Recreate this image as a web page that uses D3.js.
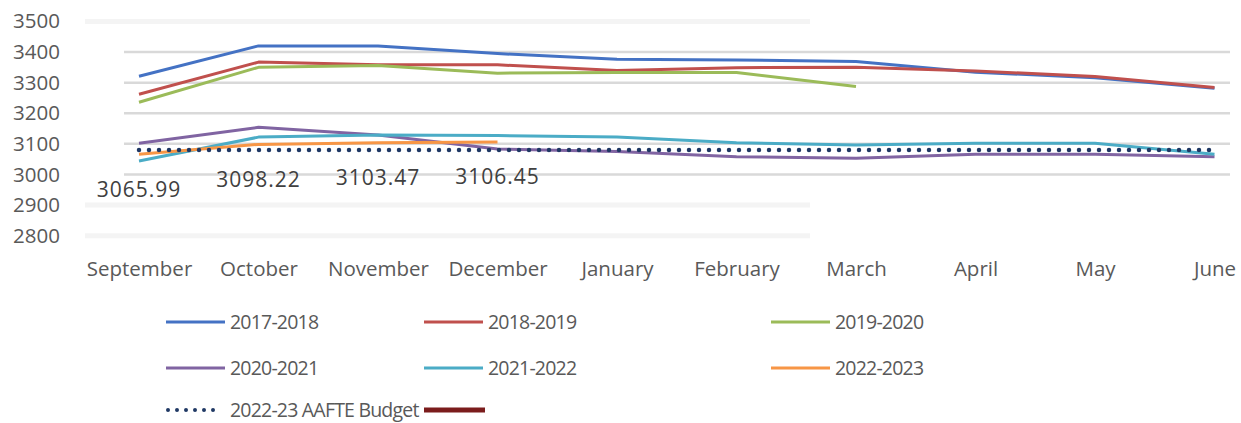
<html>
<script src='https://d3js.org/d3.v7.min.js'></script>
<style>
body { margin: 0; background: white; }
text { font-family: 'Open Sans', sans-serif; }
</style>
<body>
<svg width=1241 height=423></svg>
<script>
const months = ["September", "October", "November", "December", "January", "February", "March", "April", "May", "June"];
const yTicks = [2800, 2900, 3000, 3100, 3200, 3300, 3400, 3500];
const s2017 = [3321, 3420, 3420, 3395, 3376, 3374, 3369, 3334, 3316, 3282];
const s2018 = [3262, 3367, 3358, 3358, 3340, 3349, 3350, 3338, 3320, 3284];
const s2019 = [3236, 3350, 3356, 3331, 3333, 3333, 3287];
const s2020 = [3102, 3154, 3129, 3083, 3075, 3058, 3053, 3066, 3066, 3058];
const s2021 = [3044, 3122, 3129, 3127, 3122, 3104, 3096, 3102, 3102, 3066];
const s2022 = [3065.99, 3098.22, 3103.47, 3106.45];
const budget = [3080, 3080, 3080, 3080, 3080, 3080, 3080, 3080, 3080, 3080];

const series = [
  {name: "2017-2018", values: s2017, color: "#4472C4"},
  {name: "2018-2019", values: s2018, color: "#C0504D"},
  {name: "2019-2020", values: s2019, color: "#9BBB59"},
  {name: "2020-2021", values: s2020, color: "#8064A2"},
  {name: "2021-2022", values: s2021, color: "#4BACC6"},
  {name: "2022-2023", values: s2022, color: "#F79646"}
];

const svg = d3.select("svg");

var x = d3.scalePoint()
  .domain(months)
  .range([139, 1214.5]);

var y = d3.scaleLinear()
  .domain([2800, 3500])
  .range([235.7, 21.4]);

// faint blurred gridlines (3500, 2900, 2800)
svg.append("g")
  .selectAll("line")
  .data([3500, 2900, 2800])
  .enter()
  .append("line")
  .attr("x1", 85).attr("x2", 810)
  .attr("y1", d => y(d)).attr("y2", d => y(d))
  .attr("stroke", "#f4f4f4")
  .attr("stroke-width", 5);

// gridlines
svg.append("g")
  .selectAll("line")
  .data([3000, 3100, 3200, 3300, 3400])
  .enter()
  .append("line")
  .attr("x1", 124).attr("x2", 1230)
  .attr("y1", d => y(d)).attr("y2", d => y(d))
  .attr("stroke", "#d9d9d9")
  .attr("stroke-width", 2.5);

// y axis
const yAxis = svg.append("g")
  .attr("transform", "translate(60,0)")
  .call(d3.axisLeft(y).tickValues(yTicks).tickSize(0).tickPadding(0).tickFormat(d3.format("d")));
yAxis.select(".domain").remove();
yAxis.selectAll("text")
  .style("font-family", "'Open Sans'")
  .style("font-size", "20.5px")
  .attr("fill", "#595959");

// x axis
const xAxis = svg.append("g")
  .attr("transform", "translate(0,261)")
  .call(d3.axisBottom(x).tickSize(0).tickPadding(0));
xAxis.select(".domain").remove();
xAxis.selectAll("text")
  .style("font-family", "'Open Sans'")
  .style("font-size", "20.5px")
  .attr("fill", "#595959");

const line = d3.line()
  .x((d, i) => x(months[i]))
  .y(d => y(d));

series.forEach(s => {
  svg.append("path")
    .attr("d", line(s.values))
    .attr("fill", "none")
    .attr("stroke", s.color)
    .attr("stroke-width", 3)
    .attr("stroke-linejoin", "round");
});

// budget dotted line
svg.append("path")
  .attr("d", line(budget))
  .attr("fill", "none")
  .attr("stroke", "#1F3864")
  .attr("stroke-width", 4.5)
  .attr("stroke-linecap", "round")
  .attr("stroke-dasharray", "0,10");

// data labels for 2022-2023
svg.append("g")
  .selectAll("text")
  .data(s2022)
  .enter()
  .append("text")
  .attr("x", (d, i) => x(months[i]))
  .attr("y", d => y(d) + 35)
  .attr("dy", "0.35em")
  .attr("text-anchor", "middle")
  .style("font-size", "21px")
  .style("letter-spacing", "1px")
  .attr("fill", "#404040")
  .text(d => d3.format(".2f")(d));

// legend
const colX = [166, 424, 771];
const rowY = [322, 368, 410];
const legendItems = series.map(s => ({name: s.name, color: s.color, type: "solid"}))
  .concat([{name: "2022-23 AAFTE Budget", color: "#1F3864", type: "dot"},
           {name: "", color: "#7B1C1C", type: "thick"}]);

const leg = svg.append("g");
legendItems.forEach((d, i) => {
  const lx = colX[i % 3], ly = rowY[Math.floor(i / 3)];
  const g = leg.append("g").attr("transform", `translate(${lx},${ly})`);
  if (d.type === "solid") {
    g.append("line").attr("x1", 0).attr("x2", 59).attr("y1", 0).attr("y2", 0)
      .attr("stroke", d.color).attr("stroke-width", 3);
  } else if (d.type === "dot") {
    g.append("line").attr("x1", 2).attr("x2", 56).attr("y1", 0).attr("y2", 0)
      .attr("stroke", d.color).attr("stroke-width", 4)
      .attr("stroke-linecap", "round").attr("stroke-dasharray", "0,9");
  } else {
    g.append("line").attr("x1", 0).attr("x2", 61).attr("y1", 0).attr("y2", 0)
      .attr("stroke", d.color).attr("stroke-width", 5);
  }
  if (d.name) {
    g.append("text")
      .attr("x", 64)
      .attr("dy", "0.35em")
      .style("font-size", "19.5px")
      .style("letter-spacing", "-0.8px")
      .attr("fill", "#595959")
      .text(d.name);
  }
});
</script>
</body>
</html>
